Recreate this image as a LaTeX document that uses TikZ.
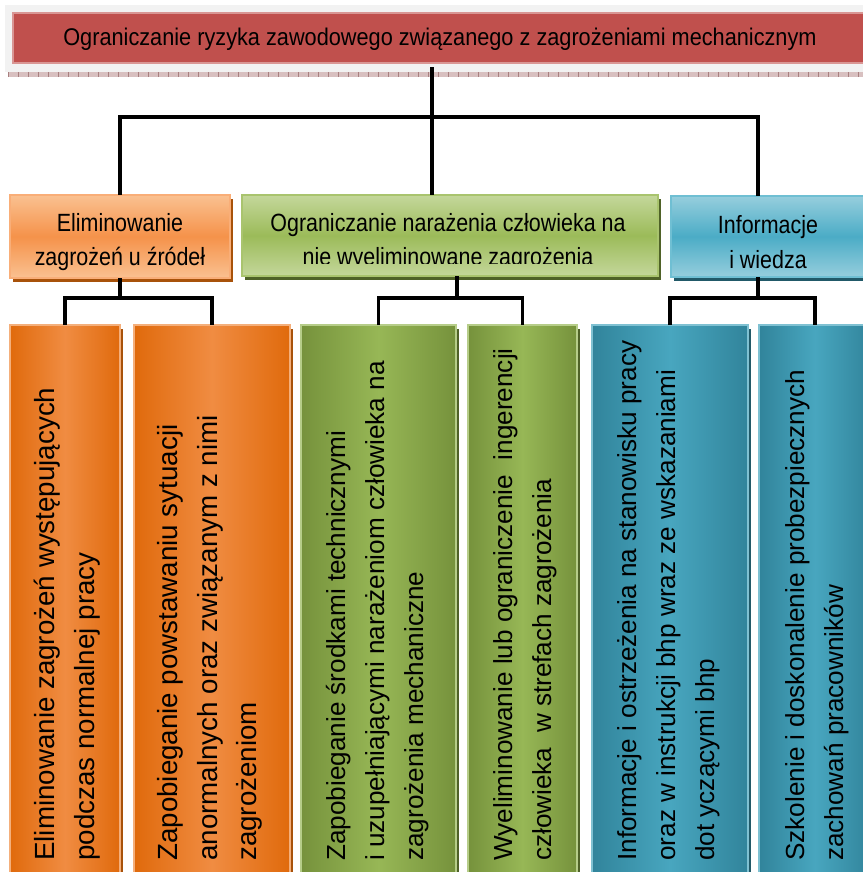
\documentclass[tikz,border=0pt]{standalone}
\usepackage{fontspec}
\setmainfont{Liberation Sans}
\newfontfamily\narrowsans[FakeStretch=0.86]{Liberation Sans}
\newfontfamily\titlesans[FakeStretch=0.9]{Liberation Sans}
\usetikzlibrary{fit,calc}

% palette
\definecolor{hdrGrey}{HTML}{F2F2F2}
\definecolor{hdrRed}{HTML}{C0504D}
\definecolor{hdrEdge}{HTML}{D99694}
\definecolor{stripFill}{HTML}{D8C0C0}
\definecolor{stripLine}{HTML}{A88080}
% second row
\definecolor{oLight}{HTML}{FAC191}
\definecolor{oMid}{HTML}{F5924A}
\definecolor{oEdge}{HTML}{F9AE78}
\definecolor{oShadow}{HTML}{A8520A}
\definecolor{gLight}{HTML}{C4D79B}
\definecolor{gMid}{HTML}{9BBB59}
\definecolor{gEdge}{HTML}{A9C46E}
\definecolor{gShadow}{HTML}{4F6228}
\definecolor{bLight}{HTML}{96CEDD}
\definecolor{bMid}{HTML}{4BACC6}
\definecolor{bEdge}{HTML}{6FBFD3}
\definecolor{bShadow}{HTML}{215968}
% third row
\definecolor{toEdge}{HTML}{E06A0C}
\definecolor{toMid}{HTML}{F08C42}
\definecolor{tgEdge}{HTML}{76923C}
\definecolor{tgMid}{HTML}{97B756}
\definecolor{tbEdge}{HTML}{31849B}
\definecolor{tbMid}{HTML}{48A6BF}

\begin{document}
\begin{tikzpicture}[x=0.75pt,y=-0.75pt,
  conn/.style={line width=2.4pt, line join=miter, draw=black},
  shadowed/.style={preaction={fill=#1, transform canvas={xshift=2.25pt,yshift=-3pt}}},
  boxfit/.style={inner sep=0pt, outer sep=0pt, line width=0.9pt},
  midbox/.style n args={4}{boxfit, draw=#3, top color=#1, bottom color=#1, middle color=#2, shadowed=#4},
  tallbox/.style n args={3}{boxfit, draw=#2!70!white, left color=#1, right color=#1, middle color=#2, shadowed=#3},
  hdrText/.style={inner sep=0pt, font=\titlesans\fontsize{18.1}{21}\selectfont},
  midText/.style={inner sep=0pt, align=center, font=\narrowsans\fontsize{18.7}{22.9}\selectfont},
  tallText/.style={inner sep=0pt, align=left, rotate=90, anchor=west, font=\fontsize{19.6}{29.3}\selectfont},
  tallTextBig/.style={tallText, font=\fontsize{20.8}{29.8}\selectfont}
]
\useasboundingbox (0,0) rectangle (863,872);
\clip (0,0) rectangle (863,872);
\fill[white] (0,0) rectangle (863,872);

% title banner
\fill[hdrGrey] (5,5) rectangle (875,72);
\node[boxfit, fit={(13,13)(875,63)}, fill=hdrRed, draw=hdrEdge] (top) {};
\node[hdrText, anchor=base] (toptext) at (440,45) {Ograniczanie ryzyka zawodowego związanego z zagrożeniami mechanicznym};
\fill[stripFill] (8,72) rectangle (875,77);
\foreach \x in {8,18,...,868} \draw[stripLine, line width=0.6pt] (\x,72) -- (\x,77);

% second row
\node[midbox={oLight}{oMid}{oEdge}{oShadow}, fit={(10,195)(230,278)}] (A) {};
\node[midbox={gLight}{gMid}{gEdge}{gShadow}, fit={(242,195)(658,276)}] (B) {};
\node[midbox={bLight}{bMid}{bEdge}{bShadow}, fit={(671,196)(875,277)}] (C) {};

\node[midText] (Atext) at (120,242) {Eliminowanie\\[3pt]zagrożeń u źródeł};
\begin{scope}
  \clip (0,0) rectangle (863,263);
  \node[midText] (Btext) at (448,242) {Ograniczanie narażenia człowieka na\\[3pt]nie wyeliminowane zagrożenia};
\end{scope}
\node[midText] (Ctext) at (768,242) {Informacje\\[3pt]i wiedza};

% third row
\node[tallbox={toEdge}{toMid}{oShadow}, fit={(10,325)(120,900)}] (t1) {};
\node[tallbox={toEdge}{toMid}{oShadow}, fit={(134,325)(290,900)}] (t2) {};
\node[tallbox={tgEdge}{tgMid}{gShadow}, fit={(301,325)(456,900)}] (t3) {};
\node[tallbox={tgEdge}{tgMid}{gShadow}, fit={(468,325)(577,900)}] (t4) {};
\node[tallbox={tbEdge}{tbMid}{bShadow}, fit={(592,325)(748,900)}] (t5) {};
\node[tallbox={tbEdge}{tbMid}{bShadow}, fit={(759,325)(871,900)}] (t6) {};

\node[tallTextBig] (t1text) at (67,861) {Eliminowanie zagrożeń występujących\\podczas normalnej pracy};
\node[tallTextBig] (t2text) at (210,861) {Zapobieganie powstawaniu sytuacji\\anormalnych oraz związanym z nimi\\zagrożeniom};
\node[tallText] (t3text) at (378,861) {Zapobieganie środkami technicznymi\\i uzupełniającymi narażeniom człowieka na\\zagrożenia mechaniczne};
\node[tallText] (t4text) at (525,861) {Wyeliminowanie lub ograniczenie\ \ ingerencji\\człowieka\ \ w strefach zagrożenia};
\node[tallText] (t5text) at (669,861) {Informacje i ostrzeżenia na stanowisku pracy\\oraz w instrukcji bhp wraz ze wskazaniami\\dot yczącymi bhp};
\node[tallText] (t6text) at (817,861) {Szkolenie i doskonalenie probezpiecznych\\zachowań pracowników};

% connectors
\coordinate (topfoot) at (432,67);
\coordinate (j0) at (432,117);
\coordinate (jA) at (120,117);
\coordinate (jC) at (758,117);
\draw[conn] (topfoot) -- (j0);
\draw[conn] (A.north) -- (jA) -- (jC) -- (jC |- C.north);
\draw[conn] (j0) -- (j0 |- B.north);

\coordinate (aBus) at (120,298);
\coordinate (bBus) at (457,298);
\coordinate (cBus) at (758,298);
\draw[conn] (A.south) -- (aBus);
\draw[conn] (t1.north) |- (aBus) -| (t2.north);
\draw[conn] (bBus |- B.south) -- (bBus);
\draw[conn] (t3.north) |- (bBus) -| (t4.north);
\draw[conn] (cBus |- C.south) -- (cBus);
\draw[conn] (t5.north) |- (cBus) -| (t6.north);
\end{tikzpicture}
\end{document}
